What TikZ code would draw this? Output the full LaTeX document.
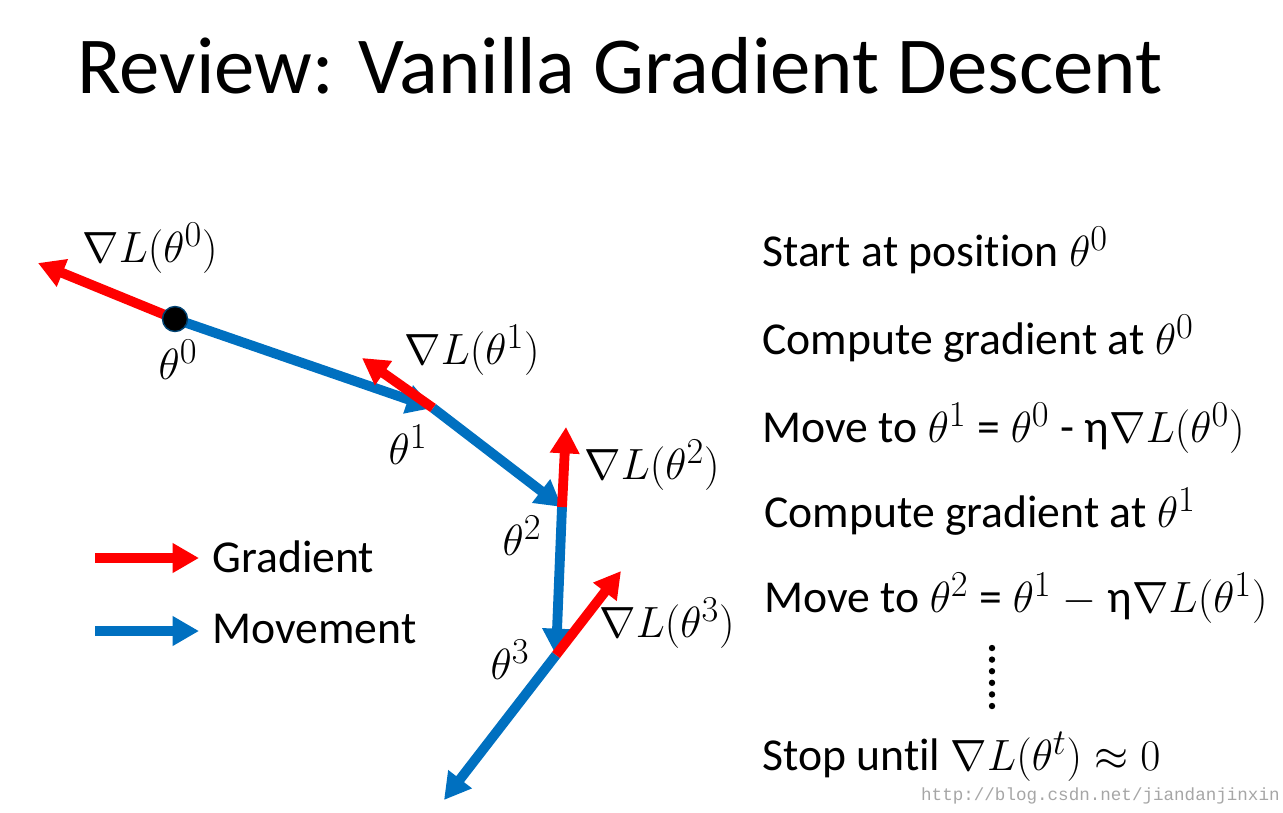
\documentclass[tikz,border=0pt]{standalone}
\usepackage{fontspec}
\setmainfont{Carlito}[Ligatures=NoCommon]
\newfontfamily\wmfont{Liberation Mono}
\usetikzlibrary{arrows.meta,positioning}

\definecolor{mvblue}{RGB}{0,112,192}

\begin{document}
\begin{tikzpicture}[
    x=0.02cm,y=-0.02cm,
    move/.style={draw=mvblue,line width=5.6pt,
                 -{Triangle[length=15pt,width=16pt]}},
    grad/.style={draw=red,line width=5.6pt,
                 -{Triangle[length=15pt,width=16pt]}},
    lbl/.style={font=\fontsize{28}{32}\selectfont,inner sep=0pt},
    txt/.style={font=\fontsize{26}{30}\selectfont,inner sep=0pt,anchor=base west},
]

\useasboundingbox (0,0) rectangle (1283,812);

% ---- Title ---------------------------------------------------------------
\node[font=\fontsize{46}{52}\selectfont,inner sep=0pt] (title) at (620,66)
    {Review: Vanilla Gradient Descent};

% ---- Points of the path --------------------------------------------------
\coordinate (t0) at (175,319);
\coordinate (t1) at (433,408);
\coordinate (t2) at (562,507);
\coordinate (t3) at (556,655);
\coordinate (tend) at (444,800);

% gradient tips
\coordinate (g0) at (38,263);
\coordinate (g1) at (362,358);
\coordinate (g2) at (566,427);
\coordinate (g3) at (621,571);

% ---- Movement ------------------------------------------------------------
\draw[move] (t0) -- (t1);
\draw[move] (t1) -- (t2);
\draw[move] (t2) -- (t3);
\draw[move] (t3) -- (tend);

% ---- Gradients -----------------------------------------------------------
\draw[grad] (t0) -- (g0);
\draw[grad] (t1) -- (g1);
\draw[grad] (t2) -- (g2);
\draw[grad] (t3) -- (g3);

\fill[black,draw=mvblue!60!black,line width=0.8pt] (t0) circle (12.5);

% ---- Labels --------------------------------------------------------------
\node[lbl] (n0) at (150,248) {$\nabla L(\theta^0)$};
\node[lbl] (p0) at (178,360) {$\theta^0$};
\node[lbl] (n1) at (472,350) {$\nabla L(\theta^1)$};
\node[lbl] (p1) at (408,445) {$\theta^1$};
\node[lbl] (n2) at (652,465) {$\nabla L(\theta^2)$};
\node[lbl] (p2) at (522,536) {$\theta^2$};
\node[lbl] (n3) at (667,623) {$\nabla L(\theta^3)$};
\node[lbl] (p3) at (510,660) {$\theta^3$};

% ---- Legend --------------------------------------------------------------
\coordinate (lg0) at (95,558);
\coordinate (lg1) at (199,558);
\coordinate (lm0) at (95,631);
\coordinate (lm1) at (199,631);
\draw[grad] (lg0) -- (lg1);
\draw[move] (lm0) -- (lm1);
\node[txt] (lgt) at (212,572) {Gradient};
\node[txt] (lmt) at (212,643) {Movement};

% ---- Steps ---------------------------------------------------------------
\node[txt] (s1) at (762,266) {Start at position \fontsize{28}{32}\selectfont$\theta^0$};
\node[txt] (s2) at (762,354) {Compute gradient at \fontsize{28}{32}\selectfont$\theta^0$};
\node[txt] (s3) at (762,442) {Move to \fontsize{28}{32}\selectfont$\theta^1$
    \fontsize{26}{30}\selectfont= \fontsize{28}{32}\selectfont$\theta^0$
    \fontsize{26}{30}\selectfont- η\fontsize{28}{32}\selectfont$\nabla L(\theta^0)$};
\node[txt] (s4) at (764,527) {Compute gradient at \fontsize{28}{32}\selectfont$\theta^1$};
\node[txt] (s5) at (764,612) {Move to \fontsize{28}{32}\selectfont$\theta^2$
    \fontsize{26}{30}\selectfont= \fontsize{28}{32}\selectfont$\theta^1$ $-$
    \fontsize{26}{30}\selectfont η\fontsize{28}{32}\selectfont$\nabla L(\theta^1)$};
\node[txt] (s6) at (762,770) {Stop until \fontsize{28}{32}\selectfont$\nabla L(\theta^t)\approx 0$};

\foreach \k in {0,...,5}
    \fill (992,648+\k*11.6) circle (3.2);

% ---- Watermark -----------------------------------------------------------
\node[font=\wmfont\fontsize{10}{12}\selectfont,text=black!35,
      anchor=base east,inner sep=0pt] (wm) at (1280,800)
    {http://blog.csdn.net/jiandanjinxin};

\end{tikzpicture}
\end{document}
